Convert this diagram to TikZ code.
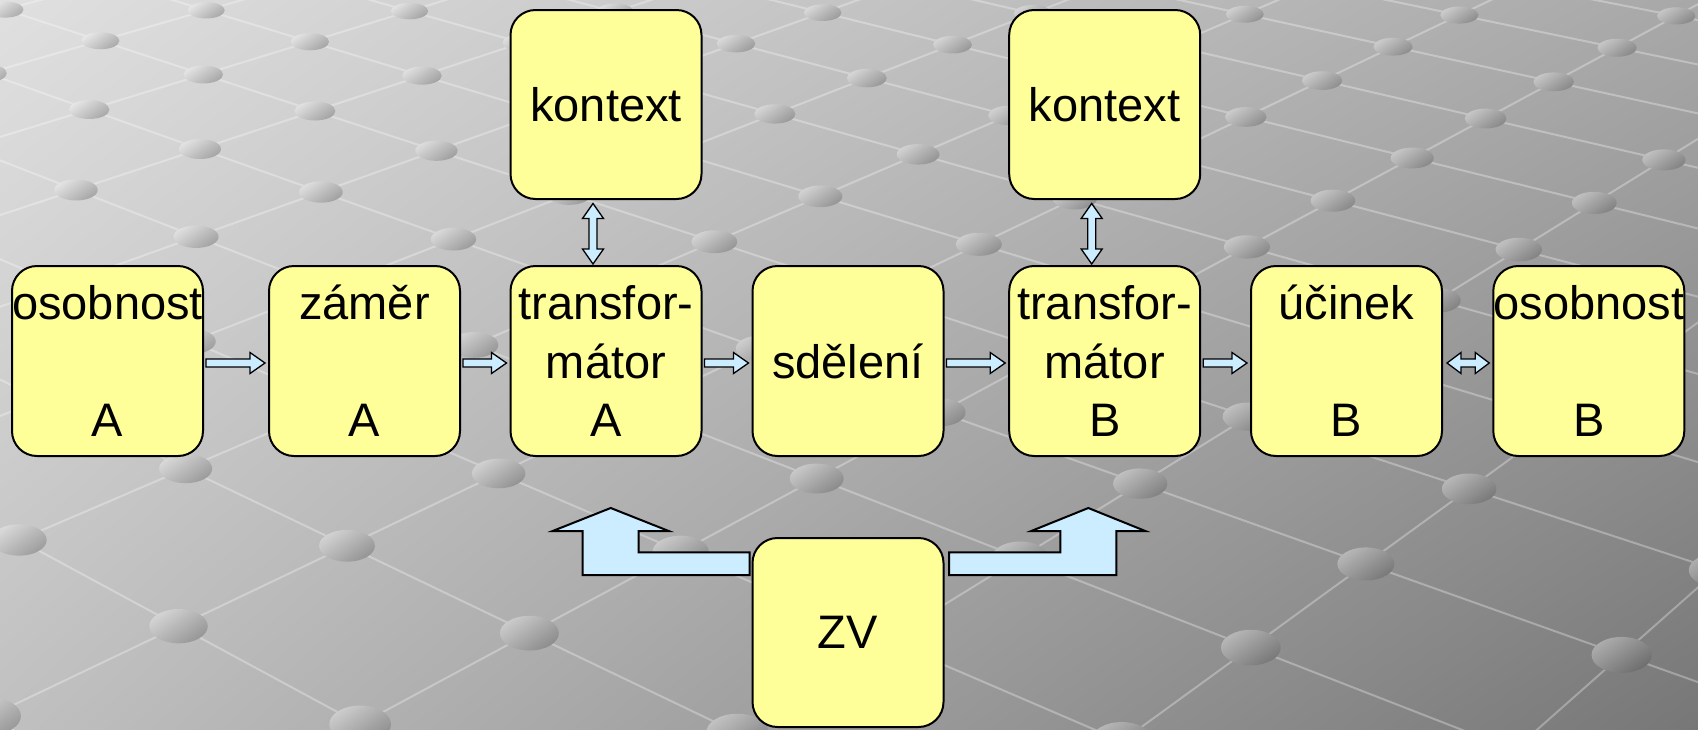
\documentclass[tikz,border=0pt]{standalone}
\usepackage{fontspec}
\setmainfont{Liberation Sans}
\usetikzlibrary{calc,shadings}
\definecolor{boxfill}{RGB}{255,255,153}
\definecolor{arrfill}{RGB}{204,236,255}
\definecolor{bgUL}{RGB}{224,224,224}
\definecolor{bgUR}{RGB}{168,168,168}
\definecolor{bgLL}{RGB}{192,192,192}
\definecolor{bgLR}{RGB}{119,119,119}
\definecolor{dotdark}{RGB}{80,80,80}
% perspective map of the background lattice
\newcommand\gridpt[2]{%
  \pgfmathsetmacro\gw{1-0.04363*(#1)+0.03747*(#2)}%
  \pgfmathsetmacro\gx{(106.96*(#1)+126.8*(#2)+200)/\gw}%
  \pgfmathsetmacro\gy{(34.67*(#1)-33.84*(#2)+149)/\gw}}
% single horizontal block arrow between two nodes
\newcommand\sarrowh[2]{%
  \draw[smallarrow] let \p1=($(#1.east)+(2,2)$), \p2=($(#2.west)+(-3,2)$) in
    (\x1,\y1+4pt) -- (\x2-15pt,\y1+4pt) -- (\x2-15pt,\y1+10.5pt) -- (\x2,\y1)
    -- (\x2-15pt,\y1-10.5pt) -- (\x2-15pt,\y1-4pt) -- (\x1,\y1-4pt) -- cycle;}
% double horizontal block arrow
\newcommand\darrowh[2]{%
  \draw[smallarrow] let \p1=($(#1.east)+(4,2)$), \p2=($(#2.west)+(-3,2)$) in
    (\x1,\y1) -- (\x1+14pt,\y1+10.5pt) -- (\x1+14pt,\y1+4pt) -- (\x2-14pt,\y1+4pt)
    -- (\x2-14pt,\y1+10.5pt) -- (\x2,\y1) -- (\x2-14pt,\y1-10.5pt) -- (\x2-14pt,\y1-4pt)
    -- (\x1+14pt,\y1-4pt) -- (\x1+14pt,\y1-10.5pt) -- cycle;}
% double vertical block arrow
\newcommand\darrowv[2]{%
  \draw[smallarrow] let \p1=($(#1.south)+(-13,3.5)$), \p2=($(#2.north)+(-13,-1)$) in
    (\x1,\y1) -- (\x1+10.5pt,\y1-15pt) -- (\x1+4pt,\y1-15pt) -- (\x1+4pt,\y2+15pt)
    -- (\x1+10.5pt,\y2+15pt) -- (\x1,\y2) -- (\x1-10.5pt,\y2+15pt) -- (\x1-4pt,\y2+15pt)
    -- (\x1-4pt,\y1-15pt) -- (\x1-10.5pt,\y1-15pt) -- cycle;}
\begin{document}
\begin{tikzpicture}[x=1pt,y=-1pt,
  box/.style={draw=black, line width=2pt, fill=boxfill, rounded corners=25pt,
    minimum width=191pt, minimum height=190pt, inner sep=0pt, align=center,
    font=\fontsize{47}{58.5}\selectfont},
  smallarrow/.style={draw=black, line width=1.3pt, fill=arrfill, line join=miter},
  bigarrow/.style={draw=black, line width=2pt, fill=arrfill, line join=miter},
  gridline/.style={white, opacity=0.3, line width=2pt},
  bgshade/.style={upper left=bgUL, upper right=bgUR, lower left=bgLL, lower right=bgLR},
  dotshade/.style={top color=white, bottom color=dotdark, shading angle=35, opacity=0.35},
]
\useasboundingbox (0,0) rectangle (1698,729);
\shade[bgshade] (0,0) rectangle (1698,729);
% perspective grid in the background
\begin{scope}
\clip (0,0) rectangle (1698,729);
\foreach \j in {-7,...,11}{
  \gridpt{-4}{\j}\let\xa\gx\let\ya\gy
  \gridpt{10}{\j}\let\xb\gx\let\yb\gy
  \draw[gridline] (\xa,\ya) -- (\xb,\yb);
}
\foreach \i in {-4,...,10}{
  \gridpt{\i}{-7}\let\xa\gx\let\ya\gy
  \gridpt{\i}{11}\let\xb\gx\let\yb\gy
  \draw[gridline] (\xa,\ya) -- (\xb,\yb);
}
\foreach \i in {-4,...,10}{
  \foreach \j in {-7,...,11}{
    \gridpt{\i}{\j}
    \pgfmathsetmacro\rx{21*exp(-0.84*ln(\gw))}
    \pgfmathsetmacro\ry{10*exp(-1.37*ln(\gw))}
    \pgfmathtruncatemacro\inside{(\gx>-60)&&(\gx<1760)&&(\gy>-40)&&(\gy<770)?1:0}
    \ifnum\inside=1
      \begin{scope}
        \clip (\gx,\gy) ellipse [x radius=\rx pt, y radius=\ry pt];
        \shade[bgshade] (0,0) rectangle (1698,729);
        \shade[dotshade] (\gx,\gy) ellipse [x radius=\rx pt, y radius=\ry pt];
      \end{scope}
    \fi
  }
}
\end{scope}
% boxes
\node[box] (osA) at (107.5,361) {osobnost\\~\\A};
\node[box] (zamA) at (364.5,361) {záměr\\~\\A};
\node[box] (trA) at (606,361) {transfor-\\mátor\\A};
\node[box] (sdel) at (848,361) {sdělení};
\node[box] (trB) at (1104.7,361) {transfor-\\mátor\\B};
\node[box] (ucB) at (1346.5,361) {účinek\\~\\B};
\node[box] (osB) at (1588.8,361) {osobnost\\~\\B};
\node[box, minimum height=189pt] (kA) at (606,104.5) {kontext};
\node[box, minimum height=189pt] (kB) at (1104.7,104.5) {kontext};
\node[box, minimum height=189pt] (zv) at (848,632.5) {ZV};
% small arrows
\sarrowh{osA}{zamA}
\sarrowh{zamA}{trA}
\sarrowh{trA}{sdel}
\sarrowh{sdel}{trB}
\sarrowh{trB}{ucB}
\darrowh{ucB}{osB}
\darrowv{kA}{trA}
\darrowv{kB}{trB}
% bent arrows from ZV
\draw[bigarrow] let \p1=($(trA.south)+(4.7,51)$), \p2=($(zv.west)+(-2,-80.2)$),
    \p3=($(zv.west)+(-2,-57.5)$) in
  (\x2,\y2) -- (\x1+28pt,\y2) -- (\x1+28pt,\y1-23pt) -- (\x1+58pt,\y1-23pt) -- (\x1,\y1)
  -- (\x1-58pt,\y1-23pt) -- (\x1-28pt,\y1-23pt) -- (\x1-28pt,\y3) -- (\x3,\y3) -- cycle;
\draw[bigarrow] let \p1=($(trB.south)+(-16.4,51)$), \p2=($(zv.east)+(4.5,-80.2)$),
    \p3=($(zv.east)+(4.5,-57.5)$) in
  (\x2,\y2) -- (\x1-28pt,\y2) -- (\x1-28pt,\y1-23pt) -- (\x1-57pt,\y1-23pt) -- (\x1,\y1)
  -- (\x1+57pt,\y1-23pt) -- (\x1+28pt,\y1-23pt) -- (\x1+28pt,\y3) -- (\x3,\y3) -- cycle;
\end{tikzpicture}
\end{document}
